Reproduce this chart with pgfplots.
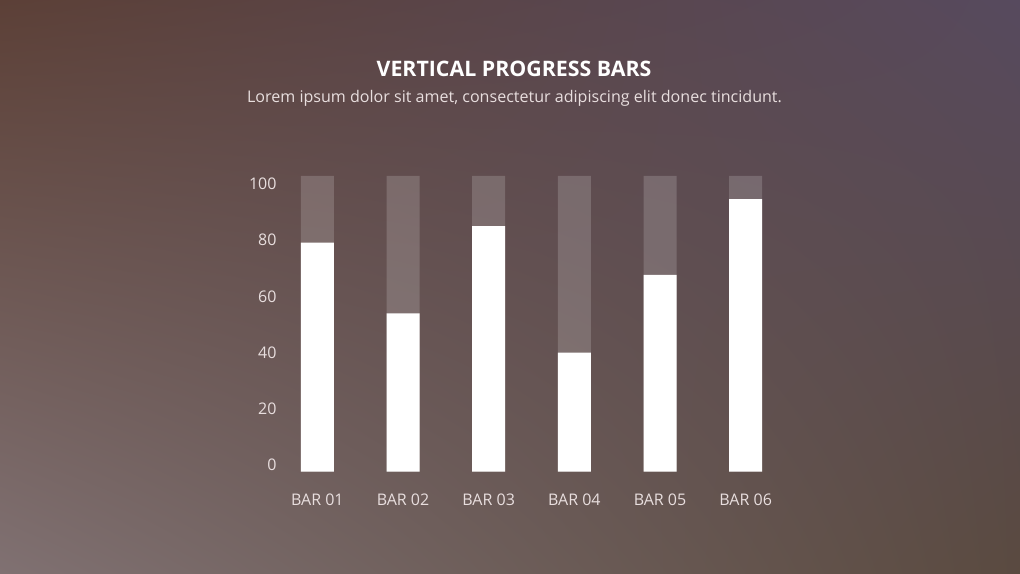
\documentclass[border=0pt]{standalone}
\usepackage{pgfplots}
\pgfplotsset{compat=1.18}
\usepackage{pgfplotstable}
\usetikzlibrary{shadings}
\usepackage{fontspec}
\setmainfont{Open Sans}
\definecolor{lab}{HTML}{E8DEDE}
\definecolor{bgUL}{HTML}{5C4037}
\definecolor{bgUR}{HTML}{574A5E}
\definecolor{bgLL}{HTML}{807172}
\definecolor{bgLR}{HTML}{5A4A40}

% values in tick units (0-100); the track spans -2.4 .. 102.8
\pgfplotstableread{
x v track
0 79.1 102.8
1 53.9 102.8
2 85.0 102.8
3 40.0 102.8
4 67.6 102.8
5 94.6 102.8
}\bardata

\begin{document}
\begin{tikzpicture}
\shade[upper left=bgUL, upper right=bgUR, lower left=bgLL, lower right=bgLR] (0pt,0pt) rectangle (765pt,430.5pt);
\node[anchor=base, text=white, inner sep=0pt, font=\bfseries\fontsize{16}{18}\selectfont] at (385.5pt,372.75pt) {VERTICAL PROGRESS BARS};
\node[anchor=base, text=lab, inner sep=0pt, font=\fontsize{12.05}{14}\selectfont] at (385.9pt,353.25pt) {Lorem ipsum dolor sit amet, consectetur adipiscing elit donec tincidunt.};
\begin{axis}[
  at={(205.9pt,76.7pt)}, anchor=south west,
  scale only axis, width=385.5pt, height=221.8pt,
  xmin=-0.5, xmax=5.5, ymin=0, ymax=105.2,
  axis line style={draw=none}, tick style={draw=none},
  xtick={0,1,2,3,4,5},
  xticklabels={BAR 01,BAR 02,BAR 03,BAR 04,BAR 05,BAR 06},
  ytick={2.4,22.4,42.4,62.4,82.4,102.4},
  yticklabels={0,20,40,60,80,100},
  /pgf/number format/assume math mode=true,
  ticklabel style={text=lab, font=\fontsize{12}{14}\selectfont},
  yticklabel style={anchor=east, inner sep=0pt, xshift=1.7pt},
  xticklabel style={anchor=base, inner sep=0pt, yshift=-21.2pt},
  ybar, bar width=24.75pt, bar shift=0pt,
  clip=false,
]
\addplot[fill=white, fill opacity=0.17, draw=none] table[x=x, y expr=\thisrow{track}+2.4] {\bardata};
\addplot[fill=white, draw=none] table[x=x, y expr=\thisrow{v}+2.4] {\bardata};
\end{axis}
\end{tikzpicture}
\end{document}
